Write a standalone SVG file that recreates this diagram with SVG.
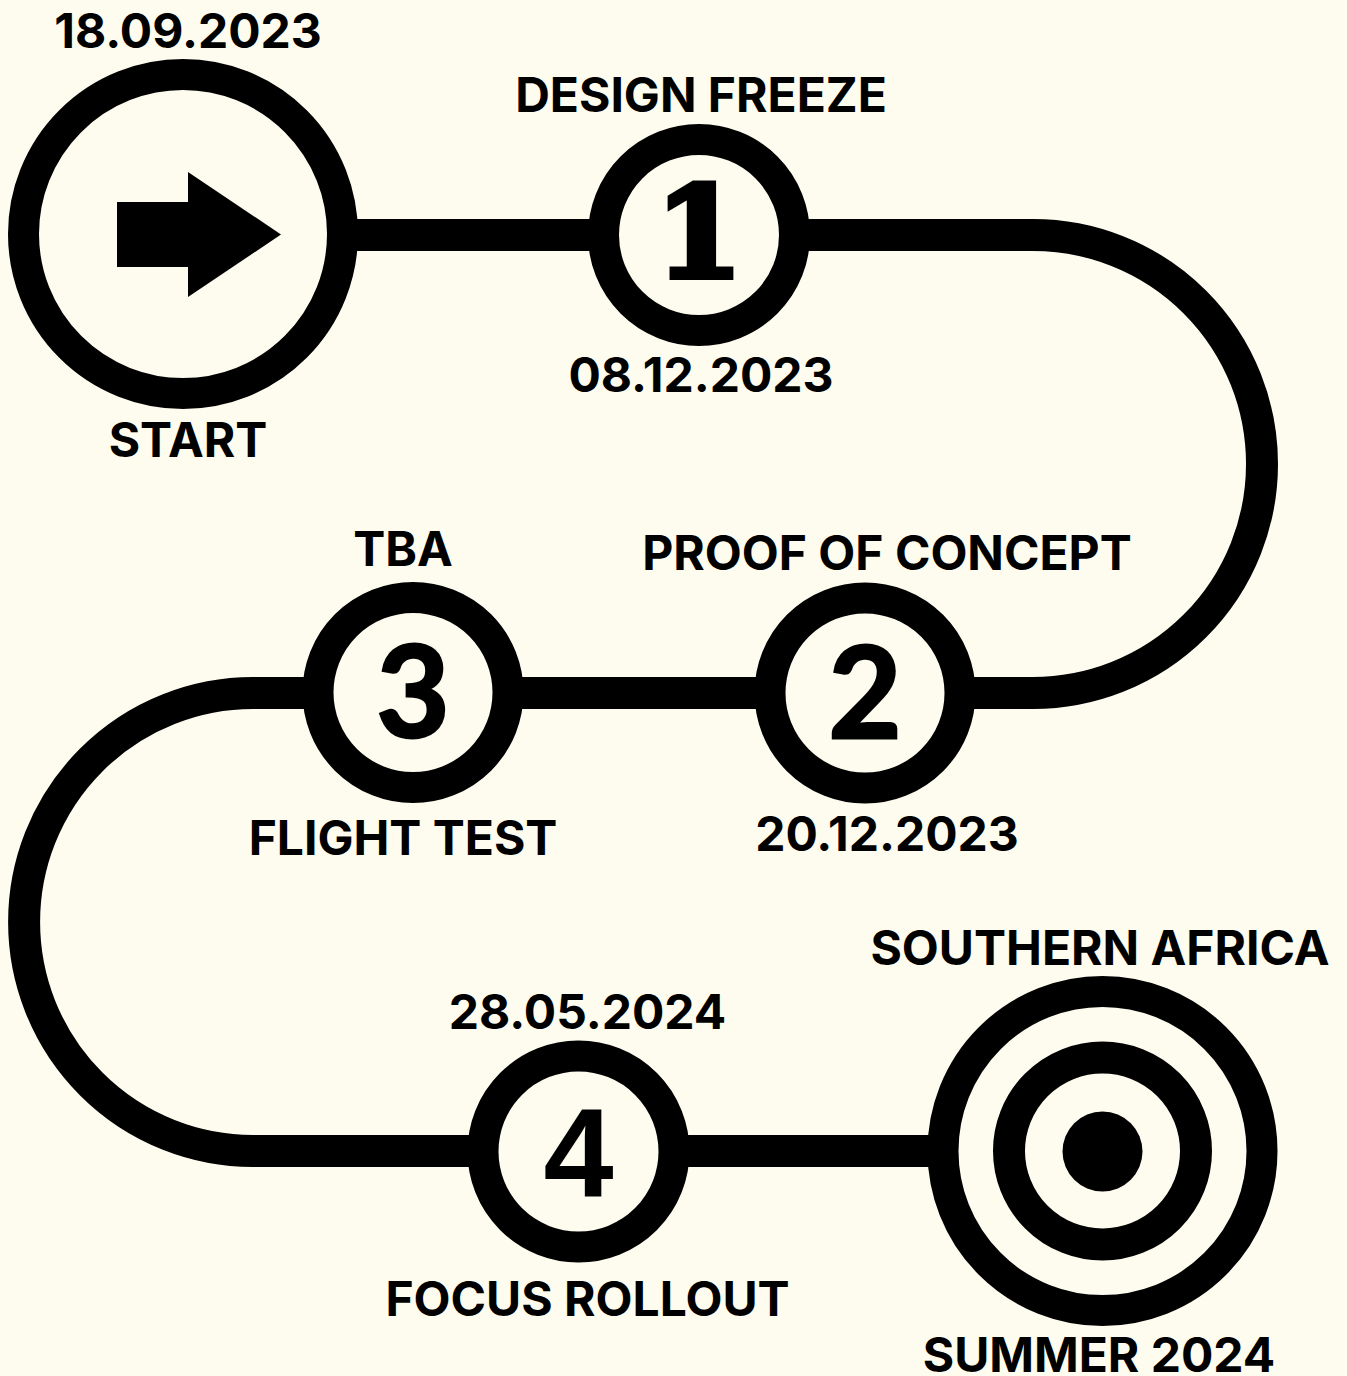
<svg xmlns="http://www.w3.org/2000/svg" width="1347" height="1376" viewBox="0 0 1347 1376">
<style>
.bg{fill:#FDFCEE}
.ring{fill:#FDFCEE;stroke:#000;stroke-width:31}
.lbl{font-family:Inter,"Liberation Sans",sans-serif;font-weight:700;font-size:48px;fill:#000;text-anchor:middle}
.num{font-size:126px;font-weight:700;fill:#000;text-anchor:middle}
.path{fill:none;stroke:#000;stroke-width:32}
</style>
<rect class="bg" x="0" y="0" width="1347" height="1376"/>
<g id="connectors">
<path class="path" d="M183,235 H1033 A229,229 0 0 1 1033,693 H253 A229,229 0 0 0 253,1151 H1102"/>
</g>
<g id="start">
<circle class="ring" cx="183" cy="234" r="159.5"/>
<polygon points="117,202 188,202 188,172 281,234.5 188,297 188,267 117,267" fill="#000"/>
<text class="lbl" x="188" y="48">18.09.2023</text>
<text class="lbl" x="188" y="457">START</text>
</g>
<g id="m1">
<circle class="ring" cx="699" cy="235" r="95.5"/>
<text class="num" x="699" y="277" font-family="'DejaVu Serif',serif" stroke="#000" stroke-width="6" stroke-linejoin="miter">1</text>
<text class="lbl" x="701" y="112">DESIGN FREEZE</text>
<text class="lbl" x="701" y="392" font-size="48.5">08.12.2023</text>
</g>
<g id="m2">
<circle class="ring" cx="865" cy="693" r="95"/>
<text class="num" x="865" y="738" font-family="Lato,'Open Sans',sans-serif" font-weight="900" stroke="#000" stroke-width="3">2</text>
<text class="lbl" x="887" y="570">PROOF OF CONCEPT</text>
<text class="lbl" x="887" y="851">20.12.2023</text>
</g>
<g id="m3">
<circle class="ring" cx="413" cy="692.5" r="95"/>
<text class="num" x="413" y="737" font-family="Lato,'Open Sans',sans-serif" font-weight="900" stroke="#000" stroke-width="3">3</text>
<text class="lbl" x="403" y="566">TBA</text>
<text class="lbl" x="403" y="855">FLIGHT TEST</text>
</g>
<g id="m4">
<circle class="ring" cx="578.5" cy="1151.5" r="95.5"/>
<text class="num" x="578.5" y="1197" font-family="'Liberation Sans',Arial,sans-serif">4</text>
<text class="lbl" x="587.5" y="1029">28.05.2024</text>
<text class="lbl" x="587.5" y="1316">FOCUS ROLLOUT</text>
</g>
<g id="goal">
<circle class="ring" cx="1102.5" cy="1151" r="159.5"/>
<circle cx="1102.5" cy="1151" r="93.5" fill="none" stroke="#000" stroke-width="32"/>
<circle cx="1102.5" cy="1151.5" r="40" fill="#000"/>
<text class="lbl" x="1100" y="965">SOUTHERN AFRICA</text>
<text class="lbl" x="1099" y="1372">SUMMER 2024</text>
</g>
</svg>
